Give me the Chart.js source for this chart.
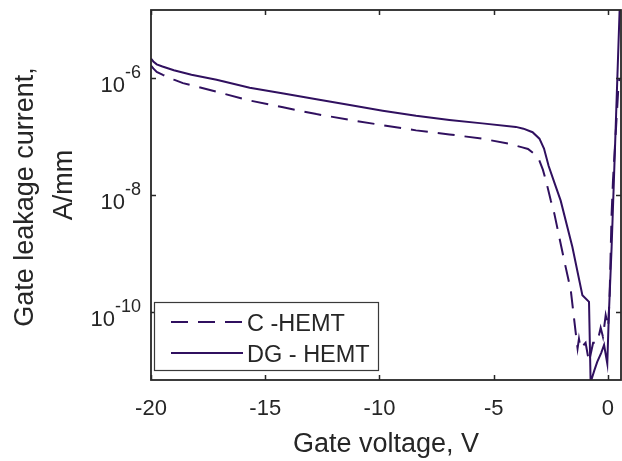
<!DOCTYPE html>
<html>
<head>
<meta charset="utf-8">
<script src="https://cdn.jsdelivr.net/npm/chart.js@4/dist/chart.umd.min.js"></script>
<style>
  html, body { margin: 0; padding: 0; background: #fff; }
  #wrap { width: 622px; height: 461px; }
</style>
</head>
<body>
<div id="wrap"><canvas id="chart_gateLeakage"></canvas></div>
<script>
// gate voltage (V) and gate leakage current (A/mm)
var cVoltage = [-20, -19.9, -19.75, -19.48, -19.0, -18.6, -17.13, -15.7, -14.22, -12.76, -11.3, -9.86, -8.4, -6.94, -5.5, -4.32, -3.75, -3.5, -3.2, -3.01, -2.85, -2.72, -2.5, -2.35, -1.92, -1.63, -1.41, -1.33, -1.27, -1.2, -0.98, -0.83, -0.65, -0.47, -0.32, -0.22, -0.1, 0.01, 0.07, 0.16, 0.22, 0.46, 0.5];
var cCurrent = [1.66e-6, 1.48e-6, 1.29e-6, 1.15e-6, 9.5e-7, 8.3e-7, 5.9e-7, 4.2e-7, 3.2e-7, 2.45e-7, 1.95e-7, 1.58e-7, 1.29e-7, 1.1e-7, 9.3e-8, 7.6e-8, 6.6e-8, 6.2e-8, 5.0e-8, 4.0e-8, 2.75e-8, 1.82e-8, 8.1e-9, 4.9e-9, 7.8e-10, 2.4e-10, 4.4e-11, 2.4e-11, 3.5e-11, 2.4e-11, 3.0e-11, 1.41e-11, 3.0e-11, 3.0e-11, 5.4e-11, 3.8e-11, 8.9e-11, 5.6e-11, 1.82e-10, 4.9e-9, 1.82e-8, 7.6e-7, 1.0e-6];

var dgVoltage = [-20, -19.9, -19.75, -19.5, -19.0, -18.23, -17.13, -15.68, -14.2, -12.76, -11.3, -9.86, -8.4, -6.94, -5.5, -4.03, -3.7, -3.3, -3.0, -2.8, -2.6, -2.33, -2.07, -1.56, -1.12, -0.83, -0.76, -0.6, -0.47, -0.3, -0.17, -0.03, 0.04, 0.16, 0.26, 0.51, 0.56];
var dgCurrent = [2.19e-6, 1.95e-6, 1.74e-6, 1.6e-6, 1.38e-6, 1.15e-6, 9.5e-7, 6.9e-7, 5.5e-7, 4.4e-7, 3.5e-7, 2.8e-7, 2.3e-7, 1.95e-7, 1.7e-7, 1.48e-7, 1.38e-7, 1.2e-7, 9.3e-8, 6.3e-8, 3.2e-8, 1.58e-8, 8.1e-9, 1.32e-9, 1.95e-10, 1.5e-10, 6.3e-12, 1.0e-11, 1.41e-11, 2.0e-11, 2.75e-11, 1.32e-11, 9.5e-11, 1.32e-9, 1.82e-8, 1.48e-5, 5.0e-5];

var seriesLabels = ['C -HEMT', 'DG - HEMT'];
var xTicks = [-20, -15, -10, -5, 0];
var yTicks = [1e-10, 1e-8, 1e-6];
var yTickExponents = ['-10', '-8', '-6'];

var lineColor = '#30105f';
var axisColor = '#262626';

function toPoints(xs, ys) {
    return xs.map(function(x, i) { return {x: x, y: ys[i]}; });
}

var frameAndLabels = {
    id: 'frameAndLabels',
    afterDatasetsDraw: function(chart) {
        var ctx = chart.ctx;
        var a = chart.chartArea;
        var xs = chart.scales.x, ys = chart.scales.y;
        ctx.save();
        ctx.strokeStyle = axisColor;
        ctx.lineWidth = 1.8;
        ctx.strokeRect(a.left, a.top, a.right - a.left, a.bottom - a.top);
        // inward ticks
        ctx.lineWidth = 1.5;
        ctx.beginPath();
        xTicks.forEach(function(v) {
            var px = Math.round(xs.getPixelForValue(v)) + 0.5;
            ctx.moveTo(px, a.bottom); ctx.lineTo(px, a.bottom - 5);
            ctx.moveTo(px, a.top); ctx.lineTo(px, a.top + 5);
        });
        yTicks.forEach(function(v) {
            var py = Math.round(ys.getPixelForValue(v)) + 0.5;
            ctx.moveTo(a.left, py); ctx.lineTo(a.left + 5, py);
            ctx.moveTo(a.right, py); ctx.lineTo(a.right - 5, py);
        });
        ctx.stroke();

        ctx.fillStyle = axisColor;
        // x tick labels
        ctx.font = '22px "Liberation Sans", Arial, sans-serif';
        ctx.textAlign = 'center';
        ctx.textBaseline = 'alphabetic';
        xTicks.forEach(function(v) {
            ctx.fillText(String(v), xs.getPixelForValue(v), 415);
        });
        // y tick labels 10^n
        yTicks.forEach(function(v, i) {
            var py = ys.getPixelForValue(v);
            ctx.textAlign = 'right';
            ctx.font = '18px "Liberation Sans", Arial, sans-serif';
            var ew = ctx.measureText(yTickExponents[i]).width;
            ctx.fillText(yTickExponents[i], 141, py);
            ctx.font = '22px "Liberation Sans", Arial, sans-serif';
            ctx.fillText('10', 141 - ew, py + 13.5);
        });
        // axis titles
        ctx.font = '27px "Liberation Sans", Arial, sans-serif';
        ctx.textAlign = 'center';
        ctx.fillText('Gate voltage, V', (a.left + a.right) / 2, 452);
        ctx.save();
        ctx.translate(33, 197);
        ctx.rotate(-Math.PI / 2);
        ctx.fillText('Gate leakage current,', 0, 0);
        ctx.restore();
        ctx.save();
        ctx.translate(72, 185);
        ctx.rotate(-Math.PI / 2);
        ctx.fillText('A/mm', 0, 0);
        ctx.restore();

        // legend box
        ctx.fillStyle = '#fff';
        ctx.fillRect(154.5, 302.5, 224, 68);
        ctx.strokeStyle = '#3a3a3a';
        ctx.lineWidth = 1.2;
        ctx.strokeRect(154.5, 302.5, 224, 68);
        var rows = [322, 353];
        chart.data.datasets.forEach(function(ds, i) {
            ctx.strokeStyle = ds.borderColor;
            ctx.lineWidth = ds.borderWidth;
            ctx.setLineDash(ds.borderDash || []);
            ctx.beginPath();
            ctx.moveTo(171, rows[i]); ctx.lineTo(243, rows[i]);
            ctx.stroke();
            ctx.setLineDash([]);
            ctx.fillStyle = axisColor;
            ctx.font = '23.5px "Liberation Sans", Arial, sans-serif';
            ctx.textAlign = 'left';
            ctx.fillText(ds.label, 247, rows[i] + 8.5);
        });
        ctx.restore();
    }
};

var chart_gateLeakage = new Chart(document.getElementById('chart_gateLeakage'), {
    type: 'line',
    data: {
        datasets: [
            {
                label: seriesLabels[0],
                data: toPoints(cVoltage, cCurrent),
                borderColor: lineColor,
                borderWidth: 2,
                borderDash: [17, 10],
                pointRadius: 0,
                tension: 0,
                fill: false
            },
            {
                label: seriesLabels[1],
                data: toPoints(dgVoltage, dgCurrent),
                borderColor: lineColor,
                borderWidth: 2,
                pointRadius: 0,
                tension: 0,
                fill: false
            }
        ]
    },
    options: {
        animation: false,
        responsive: true,
        maintainAspectRatio: false,
        layout: {
            padding: {left: 151, top: 10, right: 1, bottom: 81}
        },
        plugins: {
            legend: { display: false },
            tooltip: { enabled: false }
        },
        scales: {
            x: {
                type: 'linear',
                min: -20,
                max: 0.57,
                display: false
            },
            y: {
                type: 'logarithmic',
                min: Math.pow(10, -11.16),
                max: Math.pow(10, -4.83),
                display: false
            }
        }
    },
    plugins: [frameAndLabels]
});
</script>
</body>
</html>
